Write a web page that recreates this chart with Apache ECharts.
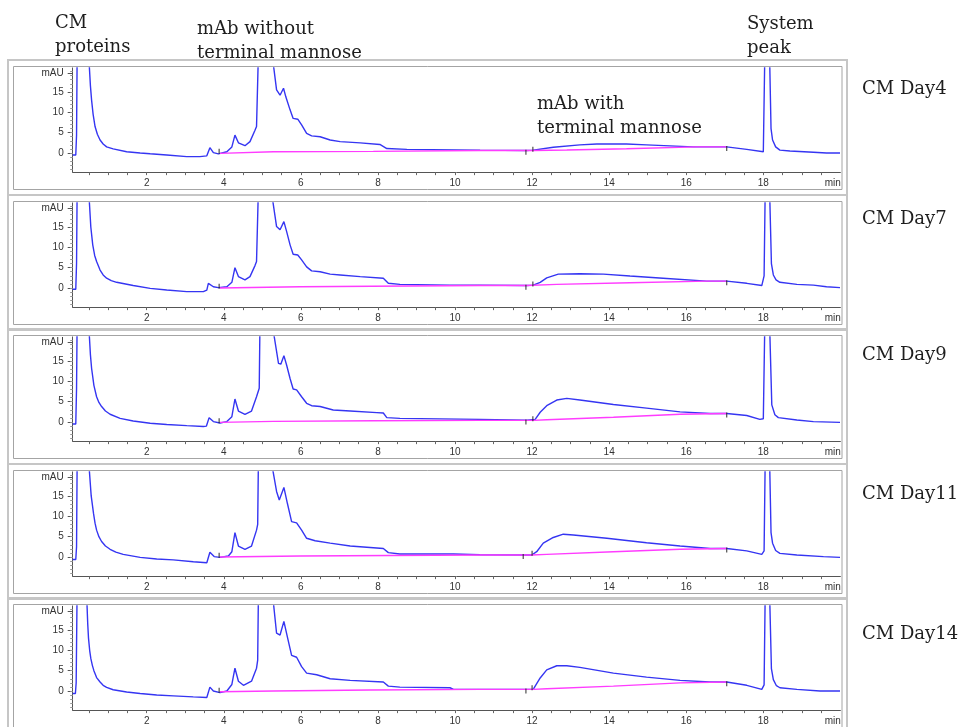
<!DOCTYPE html>
<html><head><meta charset="utf-8">
<script src="https://cdn.jsdelivr.net/npm/echarts@6/dist/echarts.min.js"></script>
<style>html,body{margin:0;padding:0;background:#fff;} #c{width:961px;height:727px;}</style>
</head><body><div id="c"></div><script>
// ---------- DATA ----------
const panelLabels = ['CM Day4', 'CM Day7', 'CM Day9', 'CM Day11', 'CM Day14'];
const xTickLabels = [2, 4, 6, 8, 10, 12, 14, 16, 18];
const xUnitLabel = 'min';
const yTickLabels = [0, 5, 10, 15];
const yUnitLabel = 'mAU';
const annotations = [
  ['CM', 'proteins'],
  ['mAb without', 'terminal mannose'],
  ['mAb with', 'terminal mannose'],
  ['System', 'peak']
];

const day4Signal = [[0.08,-0.5],[0.16,-0.5],[0.18,4.4],[0.20,30],[0.32,90],[0.45,40],[0.51,21.5],[0.54,16.5],[0.57,13],[0.61,9.5],[0.66,6.5],[0.72,4.6],[0.79,3.2],[0.87,2.2],[0.96,1.5],[1.13,1.0],[1.48,0.3],[1.83,0.0],[2.09,-0.2],[2.52,-0.5],[3.04,-0.9],[3.38,-0.9],[3.56,-0.7],[3.64,1.3],[3.73,0.1],[3.86,-0.2],[4.08,0.3],[4.21,1.5],[4.29,4.4],[4.38,2.5],[4.55,1.8],[4.68,2.8],[4.81,5.6],[4.85,6.5],[4.90,25],[5.05,95],[5.20,40],[5.29,21.5],[5.37,15.5],[5.46,14.2],[5.55,15.9],[5.61,13.8],[5.72,10.6],[5.80,8.5],[5.92,8.3],[6.02,6.9],[6.15,4.8],[6.28,4.2],[6.50,4.0],[6.76,3.2],[7.02,2.8],[7.54,2.5],[8.05,2.1],[8.23,1.1],[8.75,0.9],[10.65,0.7],[11.86,0.6],[12.03,0.7],[12.55,1.4],[13.24,2.0],[13.68,2.2],[14.45,2.2],[14.97,2.0],[16.18,1.5],[17.05,1.5],[17.57,0.9],[18.00,0.3],[18.04,25],[18.10,70],[18.16,25],[18.20,6],[18.24,3.2],[18.32,1.5],[18.43,0.7],[18.69,0.5],[19.30,0.2],[19.64,0.0],[19.99,0.0]];
const day4Baseline = [[3.90,-0.1],[5.29,0.3],[7.88,0.4],[10.65,0.6],[12.03,0.6],[12.90,0.75],[14.45,1.05],[16.27,1.5],[17.05,1.5]];
const day4Events = [[3.88,0.4],[11.84,0.2],[12.02,0.9],[17.05,1.1]];

const day7Signal = [[0.08,-0.3],[0.16,-0.3],[0.18,6.1],[0.20,30],[0.32,90],[0.45,40],[0.51,21.5],[0.55,15],[0.60,10.6],[0.65,8.0],[0.70,6.5],[0.79,4.4],[0.87,3.2],[0.96,2.4],[1.08,1.8],[1.22,1.4],[1.65,0.6],[2.09,-0.1],[2.52,-0.5],[3.04,-0.9],[3.47,-0.9],[3.56,-0.5],[3.60,1.15],[3.73,0.3],[3.86,0.1],[4.08,0.3],[4.21,1.4],[4.29,5.0],[4.38,2.8],[4.55,2.0],[4.68,2.8],[4.81,5.5],[4.85,6.5],[4.90,25],[5.05,95],[5.20,40],[5.27,21.5],[5.37,15.1],[5.46,14.3],[5.56,16.3],[5.63,13.9],[5.72,10.6],[5.80,8.3],[5.92,8.1],[6.02,6.9],[6.15,5.2],[6.28,4.2],[6.50,4.0],[6.76,3.4],[7.02,3.2],[7.54,2.8],[8.14,2.4],[8.27,1.15],[8.57,0.9],[9.87,0.7],[10.65,0.7],[11.86,0.6],[12.03,0.7],[12.21,1.4],[12.38,2.5],[12.68,3.4],[13.24,3.5],[13.85,3.4],[14.54,2.95],[15.40,2.4],[16.53,1.7],[17.05,1.7],[17.57,1.15],[17.96,0.6],[18.02,3],[18.05,25],[18.10,70],[18.16,25],[18.21,6],[18.26,3.2],[18.33,2.0],[18.43,1.4],[18.87,0.9],[19.30,0.7],[19.64,0.3],[19.99,0.1]];
const day7Baseline = [[3.90,0.0],[5.98,0.3],[10.65,0.6],[11.86,0.6],[12.64,0.9],[14.54,1.3],[16.53,1.7],[17.05,1.7]];
const day7Events = [[3.88,0.4],[11.84,0.2],[12.02,1.0],[17.05,1.3]];

const day9Signal = [[0.08,-0.5],[0.16,-0.5],[0.18,8.3],[0.20,30],[0.32,90],[0.45,40],[0.51,21.5],[0.54,16.5],[0.57,13.2],[0.63,9.0],[0.70,6.2],[0.76,4.8],[0.83,3.8],[0.93,2.7],[1.05,1.9],[1.31,0.9],[1.65,0.25],[2.09,-0.3],[2.52,-0.6],[3.04,-0.9],[3.47,-1.1],[3.55,-1.0],[3.62,1.07],[3.73,0.1],[3.90,-0.25],[4.08,0.1],[4.21,1.3],[4.29,5.65],[4.38,2.7],[4.55,1.9],[4.72,2.7],[4.85,6.2],[4.92,8.3],[4.94,25],[5.08,95],[5.22,40],[5.30,21.5],[5.42,14.4],[5.48,14.2],[5.56,16.3],[5.63,14.0],[5.72,10.7],[5.80,8.1],[5.89,7.9],[6.02,6.2],[6.15,4.6],[6.28,4.0],[6.50,3.8],[6.84,2.95],[7.28,2.7],[7.97,2.3],[8.14,2.2],[8.23,1.07],[8.57,0.9],[10.65,0.65],[11.86,0.45],[12.08,0.65],[12.21,2.4],[12.38,4.0],[12.64,5.4],[12.90,5.8],[13.24,5.4],[14.11,4.3],[14.97,3.4],[15.84,2.5],[16.62,2.1],[17.05,2.1],[17.57,1.6],[17.91,0.65],[18.00,0.8],[18.04,25],[18.10,70],[18.16,25],[18.22,4.2],[18.30,1.8],[18.39,1.07],[18.87,0.5],[19.30,0.1],[19.99,-0.1]];
const day9Baseline = [[3.90,-0.1],[5.29,0.15],[7.88,0.3],[10.65,0.4],[12.03,0.4],[12.38,0.55],[14.11,1.15],[15.84,1.9],[17.05,2.1]];
const day9Events = [[3.88,0.3],[11.84,0.0],[12.02,0.8],[17.05,1.7]];

const day11Signal = [[0.08,-0.6],[0.16,-0.6],[0.18,2.5],[0.20,30],[0.32,90],[0.45,40],[0.51,21.5],[0.56,15],[0.62,10.7],[0.66,8.3],[0.70,6.6],[0.76,5.0],[0.83,3.8],[0.93,2.7],[1.05,1.9],[1.20,1.2],[1.39,0.65],[1.83,-0.1],[2.26,-0.5],[2.69,-0.7],[3.21,-1.15],[3.56,-1.4],[3.64,1.15],[3.75,0.1],[3.90,-0.1],[4.12,0.25],[4.21,1.3],[4.29,6.0],[4.38,2.7],[4.55,1.9],[4.72,2.7],[4.85,6.6],[4.88,8],[4.90,25],[5.05,95],[5.20,40],[5.27,21.5],[5.37,16.1],[5.44,14.0],[5.56,17.1],[5.65,13.2],[5.76,8.7],[5.89,8.4],[6.02,6.6],[6.15,4.6],[6.37,4.0],[6.76,3.4],[7.28,2.7],[8.14,2.1],[8.27,1.07],[8.57,0.75],[9.96,0.75],[10.65,0.55],[11.99,0.5],[12.12,1.3],[12.29,3.4],[12.55,4.8],[12.81,5.6],[13.07,5.4],[13.94,4.6],[14.97,3.5],[15.84,2.7],[16.62,2.1],[17.05,2.1],[17.57,1.5],[17.96,0.65],[18.02,1.5],[18.05,25],[18.10,70],[18.16,25],[18.20,6],[18.24,3.4],[18.32,1.6],[18.43,0.9],[18.87,0.5],[19.56,0.1],[19.99,-0.1]];
const day11Baseline = [[3.90,0.0],[5.98,0.25],[10.65,0.5],[11.99,0.5],[12.38,0.65],[14.11,1.3],[15.84,1.9],[17.05,2.1]];
const day11Events = [[3.88,0.4],[11.77,0.1],[12.0,0.9],[17.05,1.7]];

const day14Signal = [[0.08,-0.6],[0.15,-0.6],[0.17,2],[0.20,30],[0.30,90],[0.40,40],[0.45,21.5],[0.47,16.5],[0.49,13],[0.52,10],[0.55,8],[0.59,6.3],[0.63,5],[0.70,3.3],[0.79,2.2],[0.87,1.4],[0.96,0.9],[1.13,0.3],[1.48,-0.25],[1.83,-0.6],[2.26,-1.0],[2.69,-1.2],[3.21,-1.45],[3.56,-1.6],[3.64,0.95],[3.73,0.0],[3.90,-0.4],[4.08,0.0],[4.21,1.6],[4.29,5.6],[4.38,2.4],[4.51,1.4],[4.72,2.4],[4.85,5.6],[4.88,7.6],[4.90,25],[5.05,95],[5.20,40],[5.29,21.5],[5.37,14.2],[5.46,13.75],[5.56,17.1],[5.65,13.3],[5.76,8.75],[5.89,8.3],[6.02,6.0],[6.15,4.4],[6.41,4.0],[6.76,3.0],[7.28,2.6],[8.14,2.2],[8.27,1.2],[8.57,0.95],[9.87,0.8],[9.96,0.4],[10.65,0.4],[12.03,0.4],[12.08,1.2],[12.21,3.2],[12.38,5.2],[12.64,6.2],[12.90,6.2],[13.24,5.8],[14.11,4.4],[14.97,3.4],[15.84,2.6],[16.62,2.2],[17.05,2.2],[17.57,1.4],[17.96,0.4],[18.02,1.5],[18.05,25],[18.10,70],[18.16,25],[18.21,5.5],[18.26,2.8],[18.34,1.3],[18.43,0.8],[18.87,0.4],[19.47,0.0],[19.99,0.0]];
const day14Baseline = [[3.90,-0.2],[5.29,0.0],[7.79,0.25],[10.65,0.4],[12.03,0.4],[12.38,0.55],[14.11,1.2],[15.84,2.0],[17.05,2.2]];
const day14Events = [[3.88,0.2],[11.84,0.0],[12.0,0.8],[17.05,1.8]];

const signals = [day4Signal, day7Signal, day9Signal, day11Signal, day14Signal];
const baselines = [day4Baseline, day7Baseline, day9Baseline, day11Baseline, day14Baseline];
const events = [day4Events, day7Events, day9Events, day11Events, day14Events];

// ---------- LAYOUT ----------
const X_MIN = 0.08, X_MAX = 20.0;
const Y_MIN = -4.7, Y_MAX = 20.9;
const PX_PER_MAU = 4.07;
const GRID_LEFT = 72.7, GRID_WIDTH = 767.7;
const panelZero = [153, 288, 422, 557, 691];
const labelY = [89, 219, 355, 494, 634];

const xHalfTicks = []; for (let v = 0.5; v < 20; v += 0.5) xHalfTicks.push(+v.toFixed(1));
const yMinorTicks = []; for (let v = -4; v <= 20; v++) yMinorTicks.push(v);

const grids = [], xAxes = [], yAxes = [], series = [], graphics = [];
const fontSans = 'Liberation Sans';

panelZero.forEach((y0, i) => {
  grids.push({ left: GRID_LEFT, width: GRID_WIDTH, top: y0 - Y_MAX * PX_PER_MAU, height: (Y_MAX - Y_MIN) * PX_PER_MAU });
  xAxes.push({
    gridIndex: i, type: 'value', min: X_MIN, max: X_MAX,
    axisLine: { show: true, onZero: false, lineStyle: { color: '#555', width: 1 } },
    axisTick: { show: true, customValues: xHalfTicks, length: 3, lineStyle: { color: '#666' } },
    axisLabel: { customValues: xTickLabels.concat([19.8]), formatter: v => v > 19 ? xUnitLabel : String(v),
      fontSize: 10, color: '#333', margin: 6, fontFamily: fontSans },
    splitLine: { show: false }
  });
  yAxes.push({
    gridIndex: i, type: 'value', min: Y_MIN, max: Y_MAX,
    axisLine: { show: true, onZero: false, lineStyle: { color: '#555', width: 1 } },
    axisTick: { show: true, customValues: yTickLabels.concat([19.7]), length: 5, lineStyle: { color: '#555' } },
    axisLabel: { customValues: yTickLabels.concat([19.7]), formatter: v => v > 19 ? yUnitLabel : String(v),
      fontSize: 10, color: '#333', margin: 9, fontFamily: fontSans },
    splitLine: { show: false }
  });
  yAxes.push({
    gridIndex: i, type: 'value', min: Y_MIN, max: Y_MAX, position: 'left',
    axisLine: { show: false }, axisLabel: { show: false }, splitLine: { show: false },
    axisTick: { show: true, customValues: yMinorTicks, length: 2.5, lineStyle: { color: '#999' } }
  });
  series.push({
    type: 'line', xAxisIndex: i, yAxisIndex: 2 * i, data: signals[i], showSymbol: false, symbol: 'none',
    clip: true, lineStyle: { color: '#3535f2', width: 1.4 }, z: 3, animation: false
  });
  series.push({
    type: 'line', xAxisIndex: i, yAxisIndex: 2 * i, data: baselines[i], showSymbol: false, symbol: 'none',
    clip: true, lineStyle: { color: '#ff3cff', width: 1.4 }, z: 4, animation: false
  });
  series.push({
    type: 'scatter', xAxisIndex: i, yAxisIndex: 2 * i, data: events[i], symbol: 'rect', symbolSize: [1.2, 5],
    itemStyle: { color: '#222' }, z: 5, animation: false, silent: true
  });
  graphics.push({ type: 'rect', shape: { x: 8, y: y0 - 93, width: 839, height: 135 },
    style: { fill: 'none', stroke: '#c6c6c6', lineWidth: 2 }, z: 0, silent: true });
  graphics.push({ type: 'rect', shape: { x: 13.5, y: y0 - 86.5, width: 828.5, height: 123 },
    style: { fill: 'none', stroke: '#a4a4a4', lineWidth: 1 }, z: 0, silent: true });
  graphics.push({ type: 'text', x: 862, y: labelY[i], style: { text: panelLabels[i], font: '18px "DejaVu Serif"',
    fill: '#1e1e1e', textVerticalAlign: 'middle', verticalAlign: 'middle' }, z: 10, silent: true });
});

const annoPos = [[55, 23], [197, 29], [537, 104], [747, 24]];
annotations.forEach((lines, k) => {
  lines.forEach((t, j) => {
    graphics.push({ type: 'text', x: annoPos[k][0], y: annoPos[k][1] + j * 24,
      style: { text: t, font: '18px "DejaVu Serif"', fill: '#1e1e1e', textVerticalAlign: 'middle', verticalAlign: 'middle' },
      z: 10, silent: true });
  });
});

const chart = echarts.init(document.getElementById('c'), null, { renderer: 'canvas' });
chart.setOption({
  animation: false,
  backgroundColor: '#ffffff',
  grid: grids, xAxis: xAxes, yAxis: yAxes, series: series,
  graphic: { elements: graphics }
});
</script></body></html>
